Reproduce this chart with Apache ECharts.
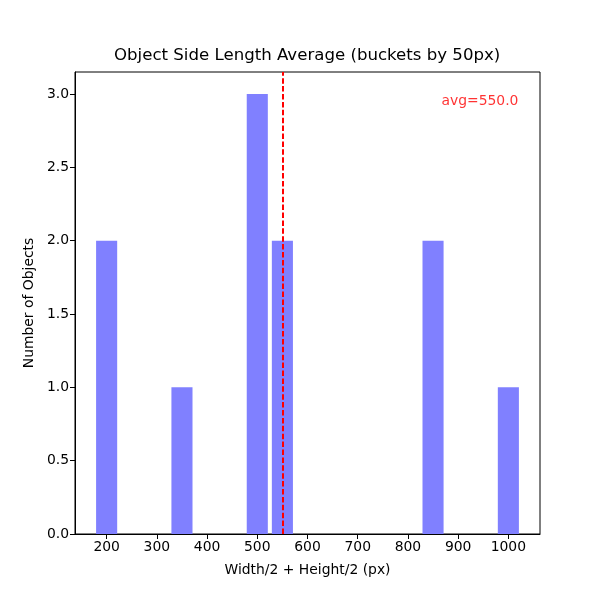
<!DOCTYPE html>
<html><head><meta charset="utf-8">
<script src="https://cdn.jsdelivr.net/npm/echarts@6/dist/echarts.min.js"></script>
<style>html,body{margin:0;padding:0;background:#fff}#c{width:600px;height:600px}</style>
</head><body><div id="c"></div>
<script>
var bucketCenters = [200, 350, 500, 550, 850, 1000];
var counts = [2, 1, 3, 2, 2, 1];
var xTicks = [200, 300, 400, 500, 600, 700, 800, 900, 1000];
var yTicks = [0, 0.5, 1.0, 1.5, 2.0, 2.5, 3.0];
var barHalfWidth = 21;

var total = 0, wsum = 0;
for (var i = 0; i < counts.length; i++) { total += counts[i]; wsum += counts[i] * bucketCenters[i]; }
var avg = wsum / total;

var font = 'DejaVu Sans';
var chart = echarts.init(document.getElementById('c'));
chart.setOption({
  animation: false,
  title: { text: 'Object Side Length Average (buckets by 50px)', left: 114, top: 47, padding: 0,
    textStyle: { fontFamily: font, fontSize: 16.6, fontWeight: 'normal', color: '#000' } },
  grid: { left: 75, right: 60, top: 72, bottom: 66, show: true, borderColor: '#000', borderWidth: 1, backgroundColor: 'transparent' },
  xAxis: {
    type: 'value', min: 137, max: 1063,
    name: 'Width/2 + Height/2 (px)', nameLocation: 'middle', nameGap: 29,
    nameTextStyle: { fontFamily: font, fontSize: 13.9, color: '#000' },
    axisLine: { show: true, onZero: false, lineStyle: { color: '#000', width: 1 } },
    axisTick: { show: true, inside: false, length: 5, lineStyle: { color: '#000' }, customValues: xTicks },
    axisLabel: { fontFamily: font, fontSize: 13.9, color: '#000', margin: 6, customValues: xTicks, formatter: function (v) { return String(v); } },
    splitLine: { show: false }
  },
  yAxis: {
    type: 'value', min: 0, max: 3.15,
    name: 'Number of Objects', nameLocation: 'middle', nameGap: 38, nameRotate: 90,
    nameTextStyle: { fontFamily: font, fontSize: 13.9, color: '#000' },
    axisLine: { show: true, lineStyle: { color: '#000', width: 1 } },
    axisTick: { show: true, inside: false, length: 5, lineStyle: { color: '#000' }, customValues: yTicks },
    axisLabel: { fontFamily: font, fontSize: 13.9, color: '#000', margin: 6, customValues: yTicks, formatter: function (v) { return v.toFixed(1); } },
    splitLine: { show: false }
  },
  series: [
    {
      type: 'custom',
      data: bucketCenters.map(function (x, i) { return [x, counts[i]]; }),
      renderItem: function (params, api) {
        var x = api.value(0), y = api.value(1);
        var p0 = api.coord([x - barHalfWidth, 0]);
        var p1 = api.coord([x + barHalfWidth, y]);
        return { type: 'rect', shape: { x: p0[0], y: p1[1], width: p1[0] - p0[0], height: p0[1] - p1[1] },
          style: { fill: '#8080ff' } };
      },
      markLine: {
        silent: true, symbol: 'none', label: { show: false },
        lineStyle: { color: '#ff0000', width: 2, type: [5.5, 2.4], opacity: 1 },
        data: [{ xAxis: avg }]
      },
      z: 2
    },
    {
      type: 'scatter', symbolSize: 0, silent: true,
      data: [[1020, 2.952]],
      label: { show: true, position: 'left', distance: 0, formatter: 'avg=' + avg.toFixed(1),
        fontFamily: font, fontSize: 13.9, color: '#ff0000' },
      z: 5
    }
  ]
});
</script></body></html>
